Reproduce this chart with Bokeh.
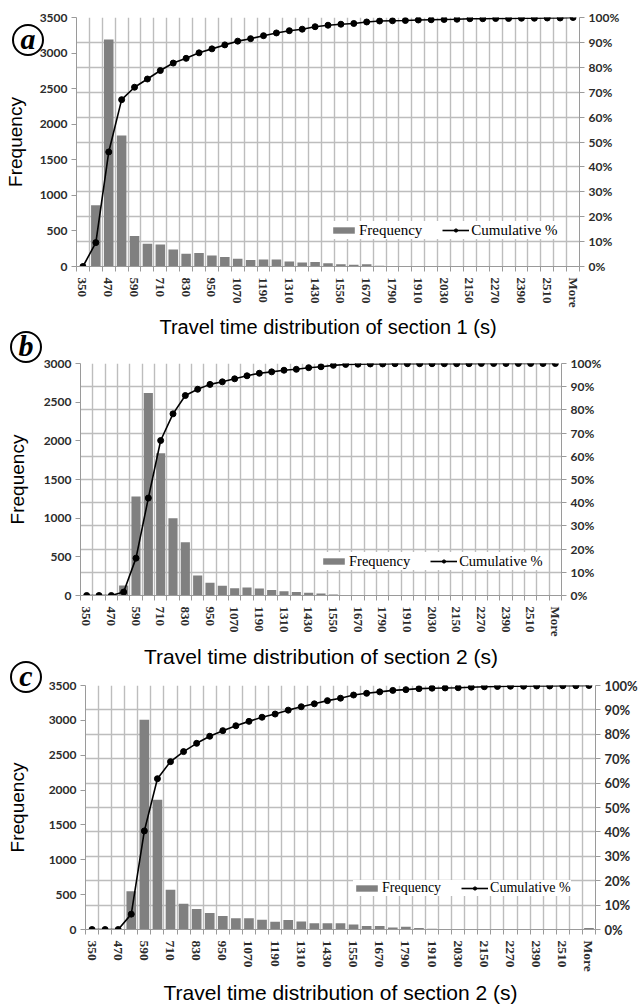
from bokeh.plotting import figure
from bokeh.models import (Range1d, LinearAxis, FixedTicker, NumeralTickFormatter,
                          Legend, LegendItem, Title, Div, ColumnDataSource)
from bokeh.embed import file_html
from bokeh.resources import INLINE

categories = ["350", "410", "470", "530", "590", "650", "710", "770", "830", "890",
              "950", "1010", "1070", "1130", "1190", "1250", "1310", "1370", "1430", "1490",
              "1550", "1610", "1670", "1730", "1790", "1850", "1910", "1970", "2030", "2090",
              "2150", "2210", "2270", "2330", "2390", "2450", "2510", "2570", "More"]

freq_a = [0, 860, 3190, 1840, 430, 320, 310, 240, 180, 190,
          155, 135, 110, 90, 100, 100, 70, 55, 65, 45,
          30, 25, 30, 12, 6, 5, 4, 3, 3, 2,
          2, 2, 1, 1, 1, 1, 0, 1, 3]
cum_a = [0, 9.6, 46.0, 67.0, 72.0, 75.3, 78.7, 81.7, 83.6, 85.8,
         87.4, 89.0, 90.5, 91.5, 92.7, 93.8, 94.7, 95.3, 96.3, 96.9,
         97.3, 97.6, 98.2, 98.6, 98.7, 98.8, 99.0, 99.1, 99.2, 99.3,
         99.5, 99.5, 99.6, 99.6, 99.7, 99.7, 99.8, 99.8, 100.0]

freq_b = [0, 0, 0, 130, 1280, 2620, 1840, 1000, 690, 260,
          165, 125, 95, 105, 90, 70, 55, 45, 35, 25,
          12, 5, 3, 2, 2, 1, 1, 1, 1, 1,
          0, 1, 0, 0, 1, 0, 0, 0, 1]
cum_b = [0, 0, 0, 1.5, 16.1, 42.0, 66.8, 78.3, 86.2, 88.9,
         91.0, 92.1, 93.4, 94.7, 95.8, 96.4, 97.1, 97.5, 98.2, 98.6,
         99.2, 99.6, 99.7, 99.8, 99.8, 99.9, 99.9, 99.9, 99.9, 99.9,
         99.9, 99.9, 100.0, 100.0, 100.0, 100.0, 100.0, 100.0, 100.0]

freq_c = [0, 0, 0, 550, 3010, 1860, 570, 370, 295, 235,
          195, 160, 160, 140, 110, 135, 115, 90, 90, 90,
          70, 50, 50, 30, 40, 20, 12, 5, 3, 3,
          8, 2, 2, 1, 1, 1, 1, 1, 20]
cum_c = [0, 0, 0, 6.3, 40.4, 61.8, 68.8, 72.9, 76.3, 79.2,
         81.5, 83.5, 85.3, 87.0, 88.3, 89.9, 91.3, 92.5, 93.8, 94.8,
         96.1, 96.8, 97.4, 98.0, 98.3, 98.7, 98.9, 99.0, 99.1, 99.3,
         99.5, 99.6, 99.7, 99.7, 99.8, 99.8, 99.9, 99.9, 100.0]

left_ticks_3500 = [0, 500, 1000, 1500, 2000, 2500, 3000, 3500]
left_ticks_3000 = [0, 500, 1000, 1500, 2000, 2500, 3000]
pct_ticks = [0, 0.1, 0.2, 0.3, 0.4, 0.5, 0.6, 0.7, 0.8, 0.9, 1.0]

x_titles = ["Travel time distribution of section 1 (s)",
            "Travel time distribution of section 2 (s)",
            "Travel time distribution of section 2 (s)"]
letters = ["a", "b", "c"]
legend_labels = ["Frequency", "Cumulative %"]

GRID = "#bdbdbd"
AXIS = "#9a9a9a"
BAR = "#808080"
TICKTXT = "#2b2b2b"
W = 640


def panel(freq, cum, ymax, left_ticks, xtitle, H, bl, br, bt, bb,
          leg_xy, leg_font, leg_lh, title_off, title_font, title_standoff,
          ylab_standoff, rfont, xfont):
    n = len(categories)
    idx = list(range(n))
    src = ColumnDataSource(dict(x=idx, f=freq, c=[v / 100.0 for v in cum]))
    p = figure(width=W, height=H, output_backend="svg", toolbar_location=None,
               x_range=Range1d(-0.5, n - 0.5), y_range=Range1d(0, ymax),
               min_border_left=bl, min_border_right=br,
               min_border_top=bt, min_border_bottom=bb)
    p.outline_line_color = None
    p.background_fill_color = "white"
    p.extra_y_ranges = {"pct": Range1d(0, 1)}

    p.xgrid.ticker = FixedTicker(ticks=[i - 0.5 for i in range(n + 1)])
    p.ygrid.ticker = FixedTicker(ticks=[ymax * k / 10.0 for k in range(11)])
    for g in (p.xgrid[0], p.ygrid[0]):
        g.grid_line_color = GRID
        g.grid_line_width = 1.4

    bars = p.vbar(x="x", top="f", width=0.74, source=src,
                  fill_color=BAR, line_color=None)
    ln = p.line(x="x", y="c", source=src, y_range_name="pct",
                line_color="black", line_width=1.6)
    sc = p.scatter(x="x", y="c", source=src, y_range_name="pct", size=6,
                   fill_color="black", line_color="black")

    # bottom axis
    xa = p.xaxis[0]
    xa.ticker = FixedTicker(ticks=idx[::2], minor_ticks=[i - 0.5 for i in range(n + 1)])
    xa.major_label_overrides = {i: categories[i] for i in idx[::2]}
    xa.major_label_orientation = "vertical"
    xa.major_tick_line_color = None
    xa.major_tick_out = 0
    xa.major_tick_in = 0
    xa.minor_tick_out = 5
    xa.minor_tick_in = 0
    xa.minor_tick_line_color = AXIS
    xa.axis_line_color = AXIS
    xa.major_label_standoff = 6
    xa.major_label_text_font = "Liberation Serif"
    xa.major_label_text_font_style = "bold"
    xa.major_label_text_font_size = xfont
    xa.major_label_text_color = TICKTXT

    # x title below the axis
    p.add_layout(Title(text=xtitle, align="center", offset=title_off,
                       standoff=title_standoff,
                       text_font="Liberation Sans", text_font_style="normal",
                       text_font_size=title_font, text_color="black"), "below")

    # left axis
    ya = p.yaxis[0]
    ya.ticker = FixedTicker(ticks=left_ticks)
    ya.major_tick_out = 5
    ya.major_tick_in = 0
    ya.minor_tick_out = 0
    ya.minor_tick_in = 0
    ya.major_tick_line_color = AXIS
    ya.axis_line_color = AXIS
    ya.major_label_standoff = 4
    ya.major_label_text_font = "Lato"
    ya.major_label_text_font_style = "bold"
    ya.major_label_text_font_size = "12px"
    ya.major_label_text_color = TICKTXT
    ya.axis_label = "Frequency"
    ya.axis_label_text_font = "Liberation Sans"
    ya.axis_label_text_font_style = "normal"
    ya.axis_label_text_font_size = "19px"
    ya.axis_label_text_color = "black"
    ya.axis_label_standoff = ylab_standoff

    # right axis
    ra = LinearAxis(y_range_name="pct", ticker=FixedTicker(ticks=pct_ticks),
                    formatter=NumeralTickFormatter(format="0%"))
    ra.major_tick_out = 5
    ra.major_tick_in = 0
    ra.minor_tick_out = 0
    ra.minor_tick_in = 0
    ra.major_tick_line_color = AXIS
    ra.axis_line_color = AXIS
    ra.major_label_standoff = 4
    ra.major_label_text_font = "Lato"
    ra.major_label_text_font_style = "bold"
    ra.major_label_text_font_size = rfont
    ra.major_label_text_color = TICKTXT
    p.add_layout(ra, "right")

    leg = Legend(items=[LegendItem(label=legend_labels[0], renderers=[bars]),
                        LegendItem(label=legend_labels[1], renderers=[ln, sc])],
                 location=leg_xy, orientation="horizontal")
    leg.background_fill_color = "white"
    leg.background_fill_alpha = 1.0
    leg.border_line_color = None
    leg.label_text_font = "Liberation Serif"
    leg.label_text_font_size = leg_font
    leg.label_text_color = "black"
    leg.glyph_width = 27
    leg.glyph_height = 8
    leg.label_height = leg_lh
    leg.label_standoff = 2
    leg.spacing = 20
    leg.padding = 3
    leg.margin = 0
    p.add_layout(leg)
    return p


def badge(letter, left, top):
    return Div(text=letter, width=32, height=32, styles={
        "position": "absolute", "left": f"{left}px", "top": f"{top}px",
        "box-sizing": "border-box", "border": "2.5px solid #000",
        "border-radius": "50%", "font-family": "'Liberation Serif', serif",
        "font-weight": "bold", "font-style": "italic", "font-size": "30px",
        "line-height": "25px", "text-align": "center", "color": "#000",
        "background": "transparent", "overflow": "visible"})


pa = panel(freq_a, cum_a, 3500, left_ticks_3500, x_titles[0],
           340, 76, 61, 17, 61, (254, 27), "15px", 18, 22, "20px", 6, 11, "12px", "13px")
pb = panel(freq_b, cum_b, 3000, left_ticks_3000, x_titles[1],
           330, 80, 79, 23, 63, (240, 25), "14.5px", 18, 2, "21px", 6, 13, "12px", "13px")
pc = panel(freq_c, cum_c, 3500, left_ticks_3500, x_titles[2],
           338, 85, 44, 15, 67, (268, 33), "14px", 14, 5, "21px", 9, 18, "13px", "13.5px")

da = badge(letters[0], 7, 19)
db = badge(letters[1], 5, 326)
dc = badge(letters[2], 5, 656)

open("out.html", "w").write(file_html([pa, pb, pc, da, db, dc], INLINE))
